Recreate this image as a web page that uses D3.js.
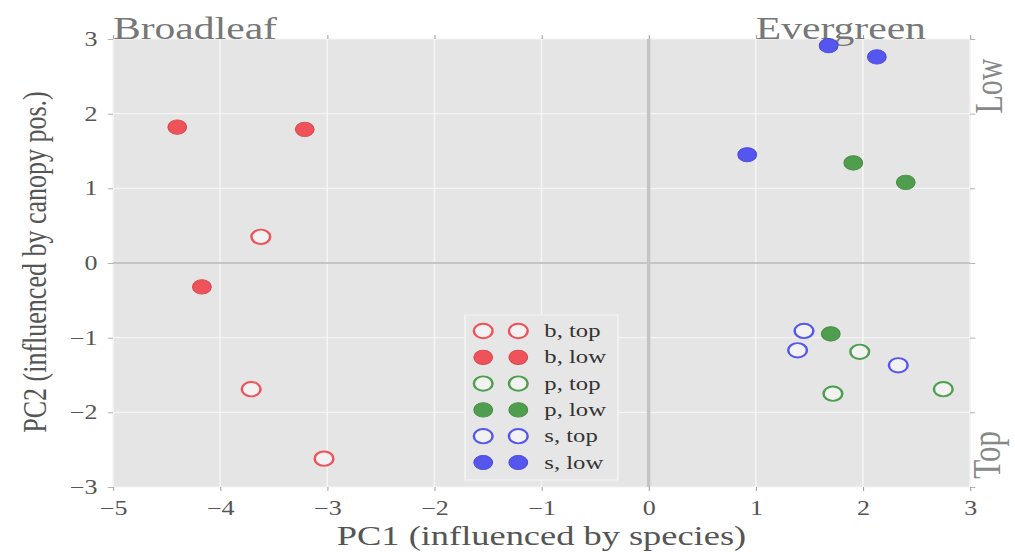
<!DOCTYPE html>
<html lang="en">
<head>
  <meta charset="UTF-8">
  <title>PCA scatter</title>
  <script src="https://d3js.org/d3.v7.min.js"></script>
  <style>
    body { margin: 0; background: #fff; }
    text { font-family: "Liberation Serif", "DejaVu Serif", serif; }
  </style>
</head>
<body>
  <svg id="chart"></svg>

  <script>
    // data
    var bTopX = [-3.62, -3.71, -3.03], bTopY = [0.35, -1.69, -2.62];
    var bLowX = [-4.40, -3.21, -4.17], bLowY = [1.82, 1.79, -0.32];
    var pTopX = [1.97, 1.72, 2.75],    pTopY = [-1.19, -1.75, -1.69];
    var pLowX = [1.91, 2.40, 1.70],    pLowY = [1.34, 1.08, -0.95];
    var sTopX = [1.45, 1.39, 2.33],    sTopY = [-0.91, -1.17, -1.37];
    var sLowX = [1.68, 2.13, 0.92],    sLowY = [2.91, 2.76, 1.45];

    var xTicks = [-5, -4, -3, -2, -1, 0, 1, 2, 3];
    var yTicks = [-3, -2, -1, 0, 1, 2, 3];

    var red = "#f05259", green = "#4e9e4e", blue = "#5555f0";

    var series = [
      { label: "b, top", color: red,   open: true,  x: bTopX, y: bTopY },
      { label: "b, low", color: red,   open: false, x: bLowX, y: bLowY },
      { label: "p, top", color: green, open: true,  x: pTopX, y: pTopY },
      { label: "p, low", color: green, open: false, x: pLowX, y: pLowY },
      { label: "s, top", color: blue,  open: true,  x: sTopX, y: sTopY },
      { label: "s, low", color: blue,  open: false, x: sLowX, y: sLowY }
    ];

    // the picture is stretched sideways, so draw in narrower units and stretch
    var stretch = 1.3,
        W = 1015 / stretch, H = 552;

    var svg = d3.select("#chart")
        .attr("width", 1015)
        .attr("height", 552)
        .attr("viewBox", "0 0 " + W + " " + H)
        .attr("preserveAspectRatio", "none");

    var pLeft = 86.9, pRight = 746.2, pTop = 39, pBottom = 487;

    var x = d3.scaleLinear().domain([-5, 3]).range([pLeft, pRight]);
    var y = d3.scaleLinear().domain([-3, 3]).range([pBottom, pTop]);

    svg.append("rect")
        .attr("x", pLeft).attr("y", pTop)
        .attr("width", pRight - pLeft).attr("height", pBottom - pTop)
        .attr("fill", "#e5e5e5");

    // grid
    svg.append("g").selectAll("line").data(xTicks).enter().append("line")
        .attr("x1", d => x(d)).attr("x2", d => x(d))
        .attr("y1", pTop).attr("y2", pBottom)
        .attr("stroke", "#f4f4f4").attr("stroke-width", 1.2);
    svg.append("g").selectAll("line").data(yTicks).enter().append("line")
        .attr("y1", d => y(d)).attr("y2", d => y(d))
        .attr("x1", pLeft).attr("x2", pRight)
        .attr("stroke", "#f4f4f4").attr("stroke-width", 1.2);

    // zero lines
    svg.append("line")
        .attr("x1", x(0)).attr("x2", x(0)).attr("y1", pTop).attr("y2", pBottom)
        .attr("stroke", "#c4c4c4").attr("stroke-width", 2.6);
    svg.append("line")
        .attr("x1", pLeft).attr("x2", pRight).attr("y1", y(0)).attr("y2", y(0))
        .attr("stroke", "#c4c4c4").attr("stroke-width", 2.2);

    // axes
    function styleAxis(g) {
      g.select(".domain").remove();
      g.selectAll(".tick line").attr("stroke", "#a0a0a0").attr("stroke-width", 0.8);
      g.selectAll(".tick text")
          .attr("fill", "#555")
          .style("font-size", "20px")
          .style("font-family", "'Liberation Serif', serif");
    }

    var fmt = d3.format("d");

    svg.append("g").attr("transform", "translate(0," + pBottom + ")")
        .call(d3.axisBottom(x).tickValues(xTicks).tickFormat(fmt).tickSize(4).tickPadding(10))
        .call(styleAxis);
    svg.append("g").attr("transform", "translate(0," + pTop + ")")
        .call(d3.axisTop(x).tickValues(xTicks).tickSize(4).tickFormat(""))
        .call(styleAxis);
    svg.append("g").attr("transform", "translate(" + pLeft + ",0)")
        .call(d3.axisLeft(y).tickValues(yTicks).tickFormat(fmt).tickSize(4).tickPadding(8))
        .call(styleAxis);
    svg.append("g").attr("transform", "translate(" + pRight + ",0)")
        .call(d3.axisRight(y).tickValues(yTicks).tickSize(4).tickFormat(""))
        .call(styleAxis);

    // axis titles
    svg.append("text")
        .attr("x", (pLeft + pRight) / 2).attr("y", 545)
        .attr("text-anchor", "middle")
        .attr("fill", "#555")
        .style("font-size", "28px")
        .text("PC1 (influenced by species)");
    svg.append("text")
        .attr("transform", "translate(35," + ((pTop + pBottom) / 2 - 1) + ") rotate(-90)")
        .attr("text-anchor", "middle")
        .attr("fill", "#555")
        .style("font-size", "26px")
        .text("PC2 (influenced by canopy pos.)");

    // group labels
    svg.append("text")
        .attr("x", x(-5)).attr("y", pTop)
        .attr("fill", "#777")
        .style("font-size", "32px")
        .text("Broadleaf");
    svg.append("text")
        .attr("x", x(1)).attr("y", pTop)
        .attr("fill", "#777")
        .style("font-size", "32px")
        .text("Evergreen");
    svg.append("text")
        .attr("transform", "translate(771,86) rotate(-90)")
        .attr("text-anchor", "middle")
        .attr("fill", "#888")
        .style("font-size", "30px")
        .text("Low");
    svg.append("text")
        .attr("transform", "translate(769,455) rotate(-90)")
        .attr("text-anchor", "middle")
        .attr("fill", "#888")
        .style("font-size", "31px")
        .text("Top");

    function marker(sel, s) {
      sel.attr("r", 7.2)
          .attr("fill", s.open ? "#f2f2f2" : s.color)
          .attr("stroke", s.open ? s.color : d3.color(s.color).darker(0.4))
          .attr("stroke-width", s.open ? 1.9 : 0.8);
    }

    // points
    series.forEach(function(s) {
      svg.append("g").selectAll("circle")
          .data(d3.range(s.x.length))
          .enter().append("circle")
          .attr("cx", i => x(s.x[i]))
          .attr("cy", i => y(s.y[i]))
          .call(marker, s);
    });

    // legend
    var lg = svg.append("g").attr("transform", "translate(357.7,315)");
    lg.append("rect")
        .attr("width", 117.7).attr("height", 165)
        .attr("fill", "#e6e6e6")
        .attr("stroke", "#f6f6f6").attr("stroke-width", 1);

    var row = lg.selectAll(".row").data(series).enter().append("g")
        .attr("class", "row")
        .attr("transform", (d, i) => "translate(0," + (16 + i * 26.3) + ")");
    row.each(function(s) {
      var r = d3.select(this);
      r.append("circle").attr("cx", 14).attr("cy", 0).call(marker, s);
      r.append("circle").attr("cx", 41).attr("cy", 0).call(marker, s);
      r.append("text")
          .attr("x", 61).attr("y", 6)
          .attr("fill", "#333")
          .style("font-size", "19px")
          .text(s.label);
    });
  </script>
</body>
</html>
